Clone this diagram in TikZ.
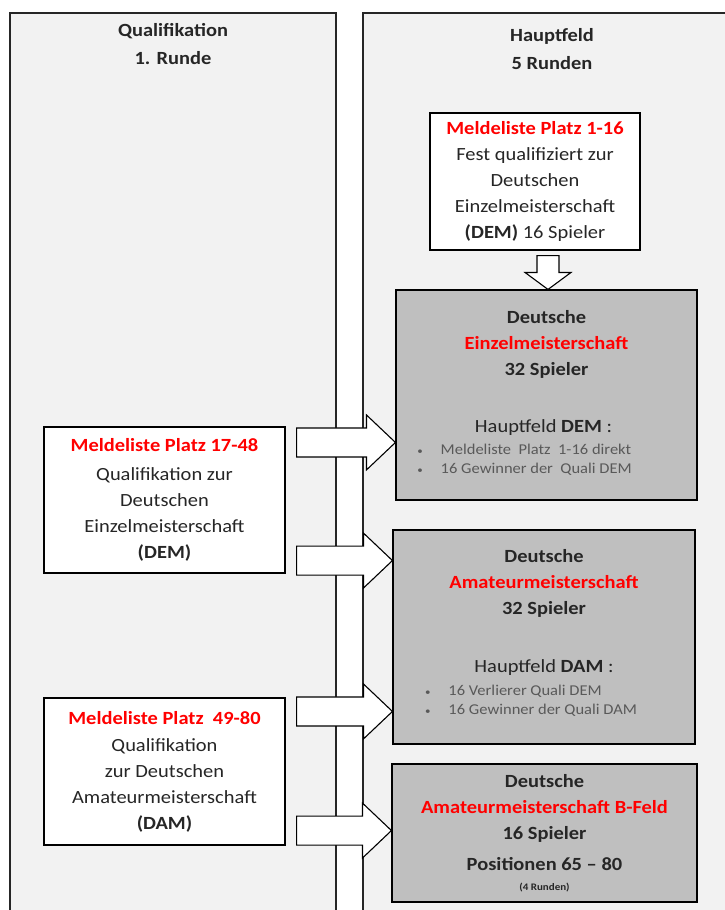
\documentclass[tikz,border=0pt]{standalone}
\usepackage{fontspec}
\setmainfont{Carlito}[FakeStretch=1.1]
\usetikzlibrary{positioning,calc}

\definecolor{panelgray}{HTML}{F2F2F2}
\definecolor{boxgray}{HTML}{BFBFBF}
\definecolor{meldred}{HTML}{FF0000}
\definecolor{listgray}{HTML}{595959}
\definecolor{inkgray}{HTML}{262626}

\newcommand{\meldred}[1]{\textcolor{meldred}{\textbf{#1}}}
\newcommand{\listfont}{\fontsize{15}{19}\selectfont\color{listgray}}
\newcommand{\listdot}{{\fontsize{10}{10}\selectfont\textbullet}}

\begin{document}
\begin{tikzpicture}[x=1pt,y=-1pt,
  every node/.style={font=\fontsize{18.6}{26}\selectfont, text=inkgray},
  panel/.style={draw=inkgray, line width=1.6pt, fill=panelgray},
  header/.style={align=center, font=\fontsize{18.6}{28}\selectfont\bfseries},
  infobox/.style={draw=black, line width=1.1pt, fill=white, align=center, inner sep=0pt},
  mainbox/.style={infobox, fill=boxgray},
  blockarr/.style={draw=black, line width=1.1pt, fill=white,
    to path={let \p1=(\tikztostart), \p2=(\tikztotarget) in
      (\x1,\y1+14.5pt) -- (\x2-29pt,\y1+14.5pt) -- (\x2-29pt,\y1+27.5pt) -- (\x2,\y1)
      -- (\x2-29pt,\y1-27.5pt) -- (\x2-29pt,\y1-14.5pt) -- (\x1,\y1-14.5pt) -- cycle}},
  downarr/.style={draw=black, line width=1.1pt, fill=white,
    to path={let \p1=(\tikztostart), \p2=(\tikztotarget) in
      (\x1-11pt,\y1) -- (\x1-11pt,\y2+17pt) -- (\x1-23pt,\y2+17pt) -- (\x1,\y2)
      -- (\x1+23pt,\y2+17pt) -- (\x1+11pt,\y2+17pt) -- (\x1+11pt,\y1) -- cycle}}]
  \useasboundingbox (0,0) rectangle (725,910);
  \clip (0,0) rectangle (725,910);

  % the two columns
  \draw[panel] (10,13) rectangle (336,930);
  \draw[panel] (363,13) rectangle (745,930);
  \node[header] (qhead) at (173,44) {Qualifikation\\1. Runde};
  \node[header] (hhead) at (552,49) {Hauptfeld\\5 Runden};

  % Hauptfeld
  \node[infobox, minimum width=210pt, minimum height=137pt] (top) at (535,181.5)
    {\meldred{Meldeliste Platz 1-16}\\ Fest qualifiziert zur\\ Deutschen\\
     Einzelmeisterschaft\\ \textbf{(DEM)} 16 Spieler};
  \node[mainbox, minimum width=301pt, minimum height=210pt] (dem) at (546.5,395)
    {\textbf{Deutsche}\\ \meldred{Einzelmeisterschaft}\\ \textbf{32 Spieler}\\[31pt]
     \hspace*{-6pt}Hauptfeld \textbf{DEM} :\\[-4pt]
     \hspace*{-44pt}{\listfont\begin{tabular}[t]{@{}l@{\hspace{18pt}}l@{}}
       \listdot & Meldeliste\ \ Platz\ \ 1-16 direkt\\
       \listdot & 16 Gewinner der\ \ Quali DEM
     \end{tabular}}};
  \node[mainbox, minimum width=302pt, minimum height=214pt] (dam) at (544,637)
    {\textbf{Deutsche}\\ \meldred{Amateurmeisterschaft}\\ \textbf{32 Spieler}\\[32pt]
     Hauptfeld \textbf{DAM} :\\[-3pt]
     \hspace*{-26pt}{\listfont\begin{tabular}[t]{@{}l@{\hspace{18pt}}l@{}}
       \listdot & 16 Verlierer Quali DEM\\
       \listdot & 16 Gewinner der Quali DAM
     \end{tabular}}\\[4pt]};
  \node[mainbox, minimum width=305pt, minimum height=138pt] (bfeld) at (544.5,833)
    {\textbf{Deutsche}\\ \meldred{Amateurmeisterschaft B-Feld}\\ \textbf{16 Spieler}\\[5pt]
     \textbf{Positionen 65 -- 80}\\[-6pt]
     {\fontsize{10}{11}\selectfont\bfseries (4 Runden)}};

  % Qualifikation
  \node[infobox, minimum width=241pt, minimum height=146pt] (q1) at (164.5,500)
    {\meldred{Meldeliste Platz 17-48}\\[3pt] Qualifikation zur\\ Deutschen\\
     Einzelmeisterschaft\\ \textbf{(DEM)}};
  \node[infobox, minimum width=241pt, minimum height=147pt] (q2) at (164.5,771.5)
    {\meldred{Meldeliste Platz\ \ 49-80}\\[1pt] Qualifikation\\ zur Deutschen\\
     Amateurmeisterschaft\\ \textbf{(DAM)}};

  % arrows
  \draw[downarr] ([xshift=13pt,yshift=-5pt]top.south) to (dem.north);
  \draw[blockarr] ([xshift=11pt,yshift=-16pt]q1.north east) to (dem.west);
  \draw[blockarr] ([xshift=11pt,yshift=13pt]q1.south east) to (dam.west);
  \draw[blockarr] ([xshift=11pt,yshift=-14pt]q2.north east) to (dam.west);
  \draw[blockarr] ([xshift=11pt,yshift=15pt]q2.south east) to (bfeld.west);
\end{tikzpicture}
\end{document}
